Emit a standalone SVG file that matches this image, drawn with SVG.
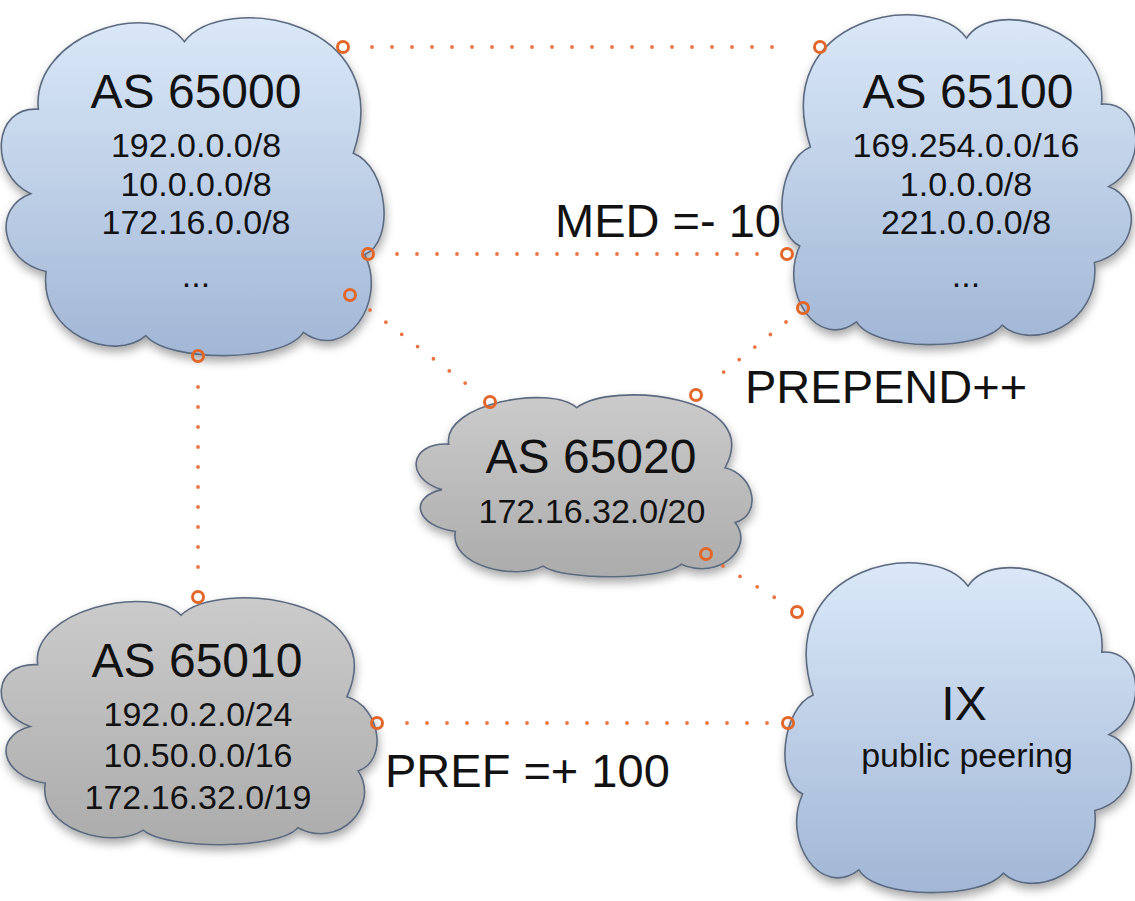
<svg xmlns="http://www.w3.org/2000/svg" xmlns:xlink="http://www.w3.org/1999/xlink" width="1135" height="901" viewBox="0 0 1135 901">
  <defs>
    <style>
      text { font-family: "Liberation Sans", Arial, Helvetica, sans-serif; fill: #121212; }
      .title { font-size: 48px; text-anchor: middle; }
      .net { font-size: 34px; text-anchor: middle; }
      .label { font-size: 47px; }
      .cloud-shape { stroke: #5c6a80; stroke-width: 1.6; vector-effect: non-scaling-stroke; }
      .blue { fill: url(#blueFill); }
      .grey { fill: url(#greyFill); }
      .link { stroke: #ec7443; stroke-width: 3.8; stroke-linecap: round; stroke-dasharray: 0 20; fill: none; }
      .port { fill: none; stroke: #e2672a; stroke-width: 3; }
    </style>
    <linearGradient id="blueFill" x1="0" y1="0" x2="0" y2="1">
      <stop offset="0" stop-color="#dae8f8"/>
      <stop offset="1" stop-color="#a2b7d6"/>
    </linearGradient>
    <linearGradient id="greyFill" x1="0" y1="0" x2="0" y2="1">
      <stop offset="0" stop-color="#cbcbcb"/>
      <stop offset="1" stop-color="#acacac"/>
    </linearGradient>
    <filter id="shadow" x="-10%" y="-10%" width="125%" height="130%">
      <feDropShadow dx="1" dy="5" stdDeviation="5" flood-color="#000" flood-opacity="0.35"/>
    </filter>
    <!-- cloud outline in a 100 x 100 box -->
    <path id="cloud" class="cloud-shape" d="M 10 27
      C 8 5, 40 -6, 48 7
      C 58 -8, 104 0, 92 40
      C 101 44, 103 66, 95 70
      C 101 84, 90 102, 79 93
      C 74 102, 44 102, 38 94
      C 30 102, 10 94, 12 75
      C 0 72, -2 56, 8 52
      C -3 46, -2 26, 10 27 Z"/>
  </defs>

  <rect width="1135" height="901" fill="#ffffff"/>

  <!-- AS 65000 -->
  <g id="as65000">
    <g filter="url(#shadow)">
      <use xlink:href="#cloud" href="#cloud" class="blue" transform="translate(0,18) scale(3.84,3.38)"/>
    </g>
    <text class="title" x="196" y="108">AS 65000</text>
    <text class="net" x="196" y="157">192.0.0.0/8</text>
    <text class="net" x="196" y="196">10.0.0.0/8</text>
    <text class="net" x="196" y="234">172.16.0.0/8</text>
    <text class="net" x="196" y="287">...</text>
  </g>

  <!-- AS 65100 -->
  <g id="as65100">
    <g filter="url(#shadow)">
      <use xlink:href="#cloud" href="#cloud" class="blue" transform="translate(1137,15) scale(-3.55,3.3)"/>
    </g>
    <text class="title" x="968" y="108">AS 65100</text>
    <text class="net" x="966" y="157">169.254.0.0/16</text>
    <text class="net" x="966" y="196">1.0.0.0/8</text>
    <text class="net" x="966" y="234">221.0.0.0/8</text>
    <text class="net" x="966" y="287">...</text>
  </g>

  <!-- AS 65020 -->
  <g id="as65020">
    <g filter="url(#shadow)">
      <use xlink:href="#cloud" href="#cloud" class="grey" transform="translate(415,395) scale(3.37,1.82)"/>
    </g>
    <text class="title" x="591" y="473">AS 65020</text>
    <text class="net" x="592" y="523">172.16.32.0/20</text>
  </g>

  <!-- AS 65010 -->
  <g id="as65010">
    <g filter="url(#shadow)">
      <use xlink:href="#cloud" href="#cloud" class="grey" transform="translate(0,598) scale(3.77,2.47)"/>
    </g>
    <text class="title" x="197" y="677">AS 65010</text>
    <text class="net" x="198" y="726">192.0.2.0/24</text>
    <text class="net" x="198" y="767">10.50.0.0/16</text>
    <text class="net" x="198" y="809">172.16.32.0/19</text>
  </g>

  <!-- IX -->
  <g id="ix">
    <g filter="url(#shadow)">
      <use xlink:href="#cloud" href="#cloud" class="blue" transform="translate(1137,563) scale(-3.52,3.3)"/>
    </g>
    <text class="title" x="964" y="720">IX</text>
    <text class="net" x="967" y="767">public peering</text>
  </g>

  <!-- peering links -->
  <g id="connectors">
    <line class="link" x1="372" y1="47" x2="792" y2="47"/>
    <line class="link" x1="397" y1="254" x2="758" y2="254"/>
    <line class="link" x1="370" y1="310" x2="478" y2="393"/>
    <line class="link" x1="786" y1="322" x2="715" y2="379"/>
    <line class="link" x1="723" y1="566" x2="782" y2="602"/>
    <line class="link" x1="198" y1="387" x2="198" y2="587"/>
    <line class="link" x1="407" y1="723" x2="768" y2="723"/>

    <circle class="port" cx="343" cy="47" r="5.5"/>
    <circle class="port" cx="820" cy="47" r="5.5"/>
    <circle class="port" cx="368" cy="254" r="5.5"/>
    <circle class="port" cx="787" cy="254" r="5.5"/>
    <circle class="port" cx="350" cy="295" r="5.5"/>
    <circle class="port" cx="490" cy="402" r="5.5"/>
    <circle class="port" cx="803" cy="308" r="5.5"/>
    <circle class="port" cx="696" cy="395" r="5.5"/>
    <circle class="port" cx="706" cy="554" r="5.5"/>
    <circle class="port" cx="797" cy="612" r="5.5"/>
    <circle class="port" cx="198" cy="356" r="5.5"/>
    <circle class="port" cx="198" cy="597" r="5.5"/>
    <circle class="port" cx="377" cy="723" r="5.5"/>
    <circle class="port" cx="788" cy="723" r="5.5"/>
  </g>

  <!-- attribute labels -->
  <g id="labels">
    <text class="label" x="555" y="237">MED =- 10</text>
    <text class="label" x="745" y="403">PREPEND++</text>
    <text class="label" x="385" y="787">PREF =+ 100</text>
  </g>
</svg>
